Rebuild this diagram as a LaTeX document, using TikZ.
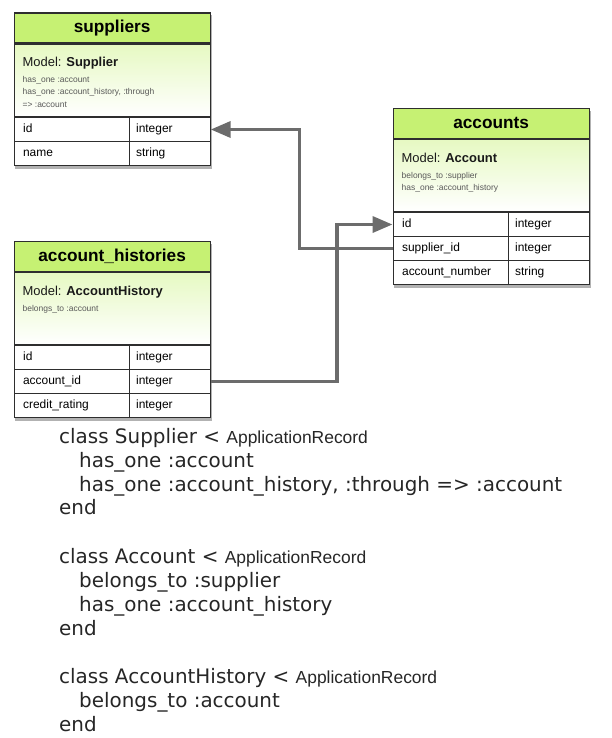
\documentclass[tikz,border=0pt]{standalone}
\usepackage{fontspec}
\setmainfont{Liberation Sans}
\newfontfamily\codefont{DejaVu Sans}
\usetikzlibrary{positioning, shadows, fit, backgrounds, arrows.meta}
\definecolor{headgreen}{HTML}{C6F173}
\definecolor{modelgreen}{HTML}{E6F9C2}
\definecolor{linkgray}{HTML}{6C6C6C}
\definecolor{tableline}{HTML}{2E2E2E}
\newcommand*{\modelname}[1]{%
  {\fontsize{13}{15}\selectfont\color{black!90}Model: \textbf{#1}}}
% row #3 (0, 1, 2, ...) under the model box #2
\newcommand*{\fieldrow}[5]{%
  \node [fieldcell, anchor=north west] (#1) at ([shift={(0,24*#3)}]#2.south west) {#4};
  \node [typecell, anchor=north west] (#1T) at ([shift={(115,24*#3)}]#2.south west) {#5};
}
\newcommand*{\appname}{{\rmfamily\fontsize{17.5}{20}\selectfont ApplicationRecord}}
\tikzset{
  tablehead/.style = {draw = tableline, line width = 1.2bp, fill = headgreen,
    minimum width = 196bp, minimum height = 30bp, inner sep = 0pt,
    font = \fontsize{17.3}{20}\selectfont\bfseries},
  modelbox/.style  = {draw = tableline, line width = 1.2bp,
    top color = modelgreen, bottom color = white,
    minimum width = 196bp, minimum height = 72bp, inner sep = 0pt},
  modeltext/.style = {anchor = north west, align = left, inner sep = 0pt,
    font = \fontsize{8.5}{12.8}\selectfont, text = black!65},
  fieldcell/.style = {draw = tableline, line width = 1.2bp, fill = white,
    minimum width = 115bp, minimum height = 24bp, inner sep = 0pt,
    text width = 97bp, text height = 9pt, text depth = 3pt,
    align = left, font = \fontsize{12}{14}\selectfont},
  typecell/.style  = {fieldcell, minimum width = 81bp, text width = 67bp},
  tableshadow/.style = {inner sep = 0pt, fill = white,
    drop shadow = {shadow xshift = 1.5bp, shadow yshift = -3bp,
      fill = black, opacity = 0.3}},
  link/.style      = {draw = linkgray, line width = 3.6bp},
  linkend/.style   = {-{Triangle[length = 20bp, width = 16bp]}},
  codeline/.style  = {anchor = base west, inner sep = 0pt,
    font = \codefont\fontsize{20}{24}\selectfont, text = black!85}
}

\begin{document}
\begin{tikzpicture}[x = 1bp, y = -1bp, node distance = 0pt]
  \useasboundingbox (0,0) rectangle (612,738);

  % suppliers
  \node [tablehead, anchor = north west] (supHead) at (13.5,12.5) {suppliers};
  \node [modelbox, below = 0pt of supHead] (supModel) {};
  \node [modeltext] (supModelText) at ([shift = {(9,13)}]supModel.north west)
    {\modelname{Supplier}\\[3pt]
     has\_one :account\\
     has\_one :account\_history, :through\\
     => :account};
  \fieldrow{supId}{supModel}{0}{id}{integer}
  \fieldrow{supName}{supModel}{1}{name}{string}

  % accounts
  \node [tablehead, anchor = north west] (accHead) at (392.5,107.5) {accounts};
  \node [modelbox, below = 0pt of accHead] (accModel) {};
  \node [modeltext] (accModelText) at ([shift = {(9,14)}]accModel.north west)
    {\modelname{Account}\\[3pt]
     belongs\_to :supplier\\
     has\_one :account\_history};
  \fieldrow{accId}{accModel}{0}{id}{integer}
  \fieldrow{accSupId}{accModel}{1}{supplier\_id}{integer}
  \fieldrow{accNumber}{accModel}{2}{account\_number}{string}

  % account_histories
  \node [tablehead, anchor = north west] (ahHead) at (13.5,240.5) {account\_histories};
  \node [modelbox, below = 0pt of ahHead] (ahModel) {};
  \node [modeltext] (ahModelText) at ([shift = {(9,14)}]ahModel.north west)
    {\modelname{AccountHistory}\\[3pt]
     belongs\_to :account};
  \fieldrow{ahId}{ahModel}{0}{id}{integer}
  \fieldrow{ahAccId}{ahModel}{1}{account\_id}{integer}
  \fieldrow{ahRating}{ahModel}{2}{credit\_rating}{integer}

  \begin{scope}[on background layer]
    \node [tableshadow, fit = (supHead)(supNameT)] (supShadow) {};
    \node [tableshadow, fit = (accHead)(accNumberT)] (accShadow) {};
    \node [tableshadow, fit = (ahHead)(ahRatingT)] (ahShadow) {};
  \end{scope}

  % links
  \draw [link, linkend] (accSupId.west) -- ++(-93,0) |- (supIdT.east);
  \draw [link, linkend] (ahAccIdT.east) -- ++(126,0) |- (accId.west);

  % model code
  \node [codeline] (supClass) at (59,443) {class Supplier < \appname};
  \node [codeline] (supHasOne) at (79,467) {has\_one :account};
  \node [codeline] (supThrough) at (79,491)
    {has\_one :account\_history, :through => :account};
  \node [codeline] (supEnd) at (59,514) {end};

  \node [codeline] (accClass) at (59,563) {class Account < \appname};
  \node [codeline] (accBelongs) at (79,587) {belongs\_to :supplier};
  \node [codeline] (accHasOne) at (79,611) {has\_one :account\_history};
  \node [codeline] (accEnd) at (59,635) {end};

  \node [codeline] (ahClass) at (59,683) {class AccountHistory < \appname};
  \node [codeline] (ahBelongs) at (79,707) {belongs\_to :account};
  \node [codeline] (ahEnd) at (59,731) {end};
\end{tikzpicture}
\end{document}
